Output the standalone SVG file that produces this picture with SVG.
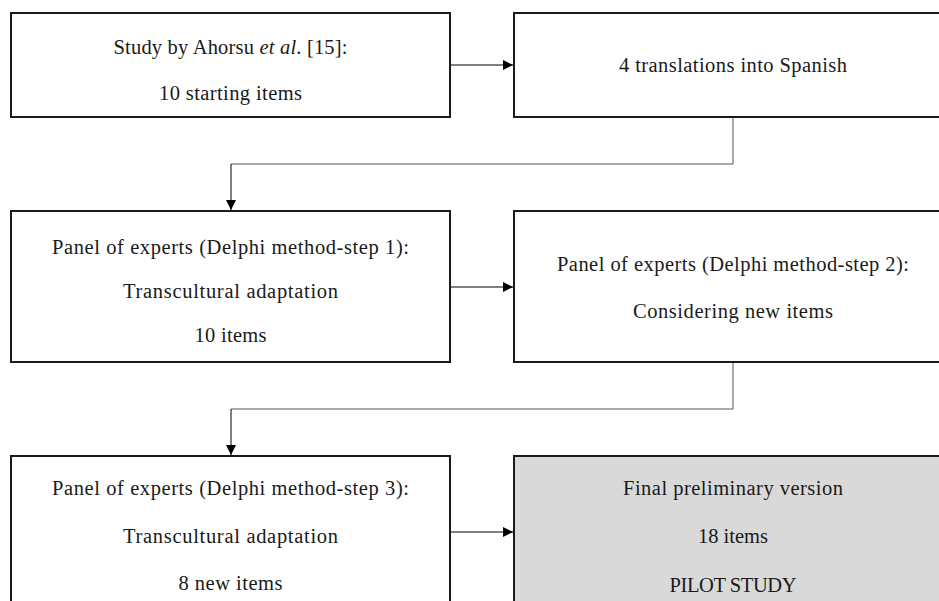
<svg xmlns="http://www.w3.org/2000/svg" width="939" height="601" viewBox="0 0 939 601">
<defs>
<marker id="ah" viewBox="0 0 10 10" refX="10" refY="5" markerWidth="10" markerHeight="10" markerUnits="userSpaceOnUse" orient="auto"><path d="M0,0 L10,5 L0,10 z" fill="#000"/></marker>
<style>
.box{fill:#fff;stroke:#1a1a1a;stroke-width:2}
.gray{fill:#d9d9d9}
.t{font-family:"Liberation Serif","DejaVu Serif",serif;font-size:20.5px;fill:#1a1a1a;text-anchor:middle}
.arr{fill:none;stroke:#000;stroke-width:1;marker-end:url(#ah)}
.con{fill:none;stroke:#555;stroke-width:1}
</style>
</defs>
<rect width="939" height="601" fill="#fff"/>
<g id="connectors">
<path class="arr" d="M450,65 H513"/>
<path class="con" d="M733,117 V164 H231"/>
<path class="arr" d="M231,164 V210"/>
<path class="arr" d="M450,287 H513"/>
<path class="con" d="M733,362 V409 H231"/>
<path class="arr" d="M231,409 V455"/>
<path class="arr" d="M450,532 H513"/>
</g>
<g id="n1">
<rect class="box" x="11" y="13" width="439" height="104"/>
<text class="t" x="230.5" y="54" textLength="234" lengthAdjust="spacing">Study by Ahorsu <tspan font-style="italic">et al</tspan>. [15]:</text>
<text class="t" x="230.5" y="100" textLength="143" lengthAdjust="spacing">10 starting items</text>
</g>
<g id="n2">
<rect class="box" x="514" y="13" width="440" height="104"/>
<text class="t" x="733" y="72" textLength="228" lengthAdjust="spacing">4 translations into Spanish</text>
</g>
<g id="n3">
<rect class="box" x="11" y="211" width="439" height="151"/>
<text class="t" x="230.5" y="254" textLength="357" lengthAdjust="spacing">Panel of experts (Delphi method-step 1):</text>
<text class="t" x="230.5" y="298" textLength="215" lengthAdjust="spacing">Transcultural adaptation</text>
<text class="t" x="230.5" y="342" textLength="72" lengthAdjust="spacing">10 items</text>
</g>
<g id="n4">
<rect class="box" x="514" y="211" width="440" height="151"/>
<text class="t" x="733" y="271" textLength="352" lengthAdjust="spacing">Panel of experts (Delphi method-step 2):</text>
<text class="t" x="733" y="318" textLength="200" lengthAdjust="spacing">Considering new items</text>
</g>
<g id="n5">
<rect class="box" x="11" y="456" width="439" height="160"/>
<text class="t" x="230.5" y="495" textLength="357" lengthAdjust="spacing">Panel of experts (Delphi method-step 3):</text>
<text class="t" x="230.5" y="543" textLength="215" lengthAdjust="spacing">Transcultural adaptation</text>
<text class="t" x="230.5" y="590" textLength="104" lengthAdjust="spacing">8 new items</text>
</g>
<g id="n6">
<rect class="box gray" x="514" y="456" width="440" height="160"/>
<text class="t" x="733" y="495" textLength="220" lengthAdjust="spacing">Final preliminary version</text>
<text class="t" x="733" y="543" textLength="70" lengthAdjust="spacing">18 items</text>
<text class="t" x="733" y="592" textLength="127" lengthAdjust="spacing">PILOT STUDY</text>
</g>
</svg>
